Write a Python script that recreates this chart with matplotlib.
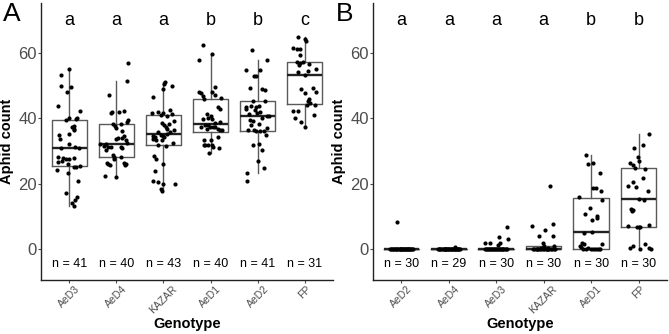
import matplotlib.pyplot as plt

plt.rcParams['font.family'] = ['Liberation Sans', 'DejaVu Sans']

# ---- panel A data (aphid counts per plant, with jitter offsets)
a_genotypes = ['AeD3', 'AeD4', 'KAZAR', 'AeD1', 'AeD2', 'FP']
a_letters = ['a', 'a', 'a', 'b', 'b', 'c']

a_aed3 = [53.3, 55.0, 49.9, 49.5, 48.0, 43.7, 42.2, 39.4, 40.2, 39.8, 40.1, 37.3, 37.7, 36.7,
          36.3, 35.0, 33.8, 35.3, 32.2, 30.8, 28.3, 27.8, 27.6, 27.5, 27.9, 31.0, 31.2, 26.7,
          26.9, 26.1, 25.1, 25.1, 25.3, 24.3, 23.3, 20.7, 17.1, 16.1, 15.1, 14.1, 13.3]
a_aed3_dx = [-0.17, -0.01, -0.17, 0.03, -0.05, -0.24, 0.22, -0.08, -0.01, 0.15, 0.16, 0.05,
             0.10, 0.11, 0.09, -0.22, -0.20, 0.00, -0.01, -0.17, -0.24, -0.14, -0.07, 0.00,
             0.10, 0.20, 0.12, -0.24, -0.15, -0.03, 0.09, 0.15, 0.23, -0.25, -0.03, 0.19,
             -0.08, 0.16, 0.12, 0.06, 0.09]

a_aed4 = [56.8, 51.5, 47.2, 41.6, 42.0, 42.1, 42.4, 38.3, 37.7, 37.0, 38.3, 39.0, 39.5, 36.2,
          33.7, 34.0, 34.0, 34.6, 33.4, 32.4, 32.1, 32.1, 31.3, 30.4, 31.4, 30.8, 28.3, 27.5,
          28.7, 28.1, 26.3, 25.9, 25.7, 26.3, 25.7, 26.1, 22.4, 22.1, 31.6, 31.2]
a_aed4_dx = [0.25, 0.22, -0.15, -0.11, -0.10, 0.06, 0.17, -0.07, -0.03, 0.00, 0.10, 0.22,
             0.25, 0.13, 0.00, 0.03, 0.12, 0.16, 0.20, 0.23, -0.35, -0.22, -0.18, -0.21,
             0.09, 0.12, -0.05, -0.04, -0.07, 0.09, -0.20, -0.17, -0.14, 0.17, 0.19, 0.20,
             -0.25, 0.00, -0.27, -0.12]

a_kazar = [51.2, 50.6, 49.1, 49.9, 46.5, 41.6, 42.0, 41.8, 42.5, 41.0, 41.2, 40.8, 39.1, 38.5,
           38.1, 38.3, 37.3, 35.9, 36.3, 35.9, 35.3, 34.9, 34.6, 34.4, 34.6, 34.2, 33.6, 33.4,
           33.4, 32.0, 31.6, 32.4, 28.5, 27.7, 26.1, 23.9, 21.0, 20.4, 20.0, 19.8, 18.3, 17.7,
           36.7]
a_kazar_dx = [0.04, 0.01, -0.01, 0.18, -0.22, -0.25, -0.11, -0.01, 0.14, -0.06, 0.19, 0.08,
              0.23, -0.04, 0.01, 0.11, 0.05, -0.12, 0.23, 0.14, 0.08, -0.06, -0.02, 0.02,
              -0.22, -0.18, -0.23, -0.15, -0.04, -0.11, 0.05, 0.21, -0.21, -0.16, -0.01,
              -0.18, -0.22, -0.11, -0.01, 0.25, -0.05, -0.04, 0.08]

a_aed1 = [62.4, 57.9, 59.7, 49.7, 48.1, 47.7, 46.9, 48.1, 47.1, 46.3, 43.4, 42.8, 45.8, 41.2,
          40.8, 40.2, 39.9, 39.8, 38.9, 38.7, 37.9, 37.5, 37.5, 37.3, 37.3, 36.7, 36.5, 36.5,
          36.9, 33.4, 33.4, 34.2, 31.8, 31.8, 31.8, 31.8, 31.4, 31.0, 29.5, 38.1]
a_aed1_dx = [-0.17, -0.24, 0.02, 0.09, -0.24, -0.21, -0.17, 0.02, 0.10, 0.23, 0.15, 0.19,
             -0.14, -0.07, 0.00, -0.05, -0.17, 0.02, 0.20, 0.09, -0.05, 0.05, -0.21, -0.01,
             0.10, 0.15, 0.19, 0.25, -0.07, -0.15, 0.00, 0.15, -0.11, -0.05, 0.03, -0.15,
             0.05, 0.17, -0.03, -0.12]

a_aed2 = [60.9, 58.0, 54.8, 54.8, 53.0, 53.0, 49.3, 49.1, 48.7, 45.3, 45.2, 43.6, 43.0, 43.8,
          43.4, 43.8, 42.6, 42.0, 41.6, 41.4, 39.5, 39.3, 40.6, 40.8, 40.2, 38.3, 37.9, 37.1,
          36.0, 36.1, 36.2, 36.3, 36.5, 34.9, 32.0, 32.2, 30.4, 26.9, 24.9, 23.4, 21.0]
a_aed2_dx = [-0.11, 0.20, -0.24, 0.05, -0.08, -0.04, -0.17, 0.09, 0.16, -0.10, 0.15, -0.25,
             -0.24, -0.14, -0.03, 0.03, -0.05, 0.05, -0.01, -0.18, -0.17, -0.10, 0.19, 0.23,
             0.10, 0.02, -0.14, 0.19, 0.13, 0.06, -0.03, -0.21, -0.08, 0.17, -0.10, 0.03,
             0.10, 0.00, 0.13, -0.22, -0.22]

a_fp = [65.0, 64.4, 63.6, 61.6, 61.2, 61.2, 59.3, 57.3, 57.1, 57.3, 56.7, 56.3, 55.0, 54.4,
        54.2, 53.2, 49.1, 49.3, 48.1, 47.7, 45.9, 45.3, 44.8, 44.2, 44.2, 42.2, 42.4, 40.2,
        38.9, 37.5, 41.0]
a_fp_dx = [-0.15, 0.00, 0.03, -0.24, -0.17, -0.10, -0.11, -0.17, -0.10, -0.04, 0.10, -0.12,
           0.23, 0.06, -0.14, 0.00, -0.08, 0.17, 0.23, 0.00, 0.09, 0.07, 0.12, 0.05, 0.22,
           -0.24, -0.14, -0.20, -0.07, 0.00, 0.20]

# ---- panel B data
b_genotypes = ['AeD2', 'AeD4', 'AeD3', 'KAZAR', 'AeD1', 'FP']
b_letters = ['a', 'a', 'a', 'a', 'b', 'b']

b_aed2 = [8.3] + [0.0] * 29
b_aed2_dx = [-0.10, -0.24, -0.20, -0.17, -0.16, -0.12, -0.10, -0.09, -0.06, -0.04, -0.03,
             0.00, 0.02, 0.03, 0.06, 0.07, 0.09, 0.11, 0.12, 0.15, 0.16, 0.18, 0.20, 0.22,
             0.24, -0.22, -0.14, -0.01, 0.05, 0.13]

b_aed4 = [0.6] + [0.0] * 28
b_aed4_dx = [0.12, -0.23, -0.21, -0.18, -0.15, -0.13, -0.11, -0.08, -0.06, -0.05, -0.02,
             0.00, 0.01, 0.04, 0.05, 0.08, 0.10, 0.13, 0.14, 0.17, 0.19, 0.21, 0.23, -0.19,
             -0.09, -0.03, 0.07, 0.16, 0.20]

b_aed3 = [6.8, 3.1, 3.8, 1.9, 1.9, 1.9, 1.3] + [0.0] * 23
b_aed3_dx = [0.23, 0.25, 0.06, -0.24, -0.14, 0.07, 0.03, -0.24, -0.21, -0.19, -0.16, -0.13,
             -0.11, -0.08, -0.05, -0.03, 0.00, 0.02, 0.05, 0.08, 0.10, 0.12, 0.15, 0.18,
             0.20, 0.23, -0.17, -0.07, 0.04, 0.14]

b_kazar = [19.3, 7.6, 7.0, 5.9, 4.1, 4.1, 1.9, 1.0, 0.9, 0.5, 0.3] + [0.0] * 19
b_kazar_dx = [0.13, 0.20, -0.25, 0.03, -0.10, 0.19, -0.02, 0.01, 0.22, -0.06, 0.10, -0.23,
              -0.20, -0.17, -0.14, -0.11, -0.08, -0.05, -0.02, 0.01, 0.04, 0.07, 0.09, 0.12,
              0.15, 0.18, 0.21, 0.24, -0.12, 0.06]

b_aed1 = [28.8, 26.5, 25.9, 23.4, 18.7, 18.7, 17.9, 15.9,
          14.9, 12.5, 10.8, 10.0, 9.4, 9.0, 5.3, 5.0,
          2.0, 1.6, 1.6, 1.0, 0.6, 0.4, 0.0, 0.0, 0.0, 0.0, 0.0, 0.0, 0.0, 0.0]
b_aed1_dx = [-0.11, 0.04, -0.06, 0.19, 0.05, 0.11, 0.21, -0.25,
             0.22, -0.02, -0.12, 0.12, 0.13, 0.02, 0.01, -0.16,
             -0.19, -0.15, 0.22, -0.23, -0.21, -0.06, -0.01, 0.08, 0.05, 0.16, 0.13, -0.11,
             -0.17, 0.19]

b_fp = [35.3, 32.0, 30.8, 28.1, 27.1, 26.5, 25.7, 24.9, 24.5, 21.8, 20.6, 19.4, 19.1, 17.7,
        15.3, 15.1, 12.4, 12.0, 11.8, 7.5, 7.1, 6.9, 6.9, 6.9, 1.5, 1.0, 0.4, 0.4, 0.2, 0.0]
b_fp_dx = [0.23, 0.09, -0.09, -0.02, 0.01, -0.18, -0.12, -0.08, 0.14, 0.09, -0.11, -0.23,
           -0.06, 0.21, 0.01, 0.11, -0.15, -0.12, -0.14, 0.22, -0.22, -0.04, 0.01, 0.04,
           0.14, -0.12, -0.18, 0.22, 0.26, 0.04]

a_data = [a_aed3, a_aed4, a_kazar, a_aed1, a_aed2, a_fp]
a_dx = [a_aed3_dx, a_aed4_dx, a_kazar_dx, a_aed1_dx, a_aed2_dx, a_fp_dx]
b_data = [b_aed2, b_aed4, b_aed3, b_kazar, b_aed1, b_fp]
b_dx = [b_aed2_dx, b_aed4_dx, b_aed3_dx, b_kazar_dx, b_aed1_dx, b_fp_dx]

LETTER_Y = 70
N_Y = -4.4
GREY = '#4d4d4d'


def panel(ax, data, dx, names, letters):
    pos = list(range(1, len(data) + 1))
    ax.boxplot(data, positions=pos, widths=0.75, whis=1.5, showfliers=False,
               showcaps=False,
               boxprops=dict(color='#5a5a5a', linewidth=1.0),
               whiskerprops=dict(color='#5a5a5a', linewidth=1.0),
               medianprops=dict(color='#222222', linewidth=1.7),
               zorder=2)
    for p, vals, offs in zip(pos, data, dx):
        ax.scatter([p + o for o in offs], vals, s=9, color='black', linewidths=0, zorder=3)
        ax.text(p, N_Y, f'n = {len(vals)}', ha='center', va='center', fontsize=9)
    for p, lt in zip(pos, letters):
        ax.text(p, LETTER_Y, lt, ha='center', va='center', fontsize=13)

    ax.set_xlim(0.4, 6.6)
    ax.set_ylim(-9.4, 75.3)
    ax.set_yticks([0, 20, 40, 60])
    ax.set_xticks(pos)
    ax.set_xticklabels(names, rotation=45, ha='center', va='top', fontsize=7.5, color=GREY)
    ax.tick_params(axis='y', labelsize=12, labelcolor=GREY, length=2, pad=1, color=GREY)
    ax.tick_params(axis='x', length=2, pad=1, color=GREY)
    for s in ['top', 'right']:
        ax.spines[s].set_visible(False)
    for s in ['left', 'bottom']:
        ax.spines[s].set_linewidth(1.0)
        ax.spines[s].set_color('#222222')
    ax.set_xlabel('Genotype', fontsize=10.5, fontweight='bold', va='center')
    ax.xaxis.set_label_coords(0.5, -0.158)
    ax.set_ylabel('Aphid count', fontsize=10.5, fontweight='bold', labelpad=3)


fig = plt.figure(figsize=(6.69, 3.34), dpi=100)
axA = fig.add_axes([0.0613, 0.162, 0.4365, 0.829])
axB = fig.add_axes([0.5575, 0.162, 0.4395, 0.829])

panel(axA, a_data, a_dx, a_genotypes, a_letters)
panel(axB, b_data, b_dx, b_genotypes, b_letters)

fig.text(0.004, 0.995, 'A', fontsize=19, ha='left', va='top')
fig.text(0.502, 0.995, 'B', fontsize=19, ha='left', va='top')

fig.savefig('out.png', dpi=100)
